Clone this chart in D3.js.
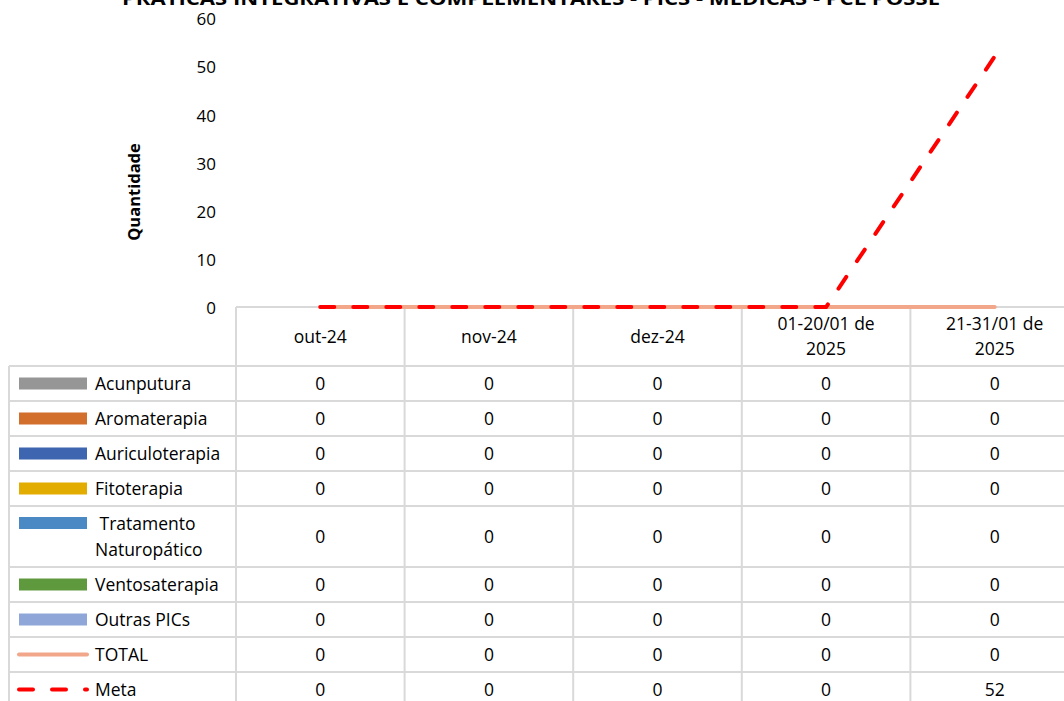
<!DOCTYPE html>
<html><head><meta charset="utf-8">
<script src="https://cdn.jsdelivr.net/npm/d3@7"></script>
<style>
html,body{margin:0;padding:0;background:#fff;overflow:hidden;}
text{font-family:"Open Sans","Lato",sans-serif;fill:#000;}
</style></head>
<body>
<svg id="chart" width="1064" height="701"></svg>
<script>
const title = "PRÁTICAS INTEGRATIVAS E COMPLEMENTARES - PICS - MÉDICAS - PCL POSSE";
const yLabel = "Quantidade";
const categories = ["out-24", "nov-24", "dez-24", "01-20/01 de 2025", "21-31/01 de 2025"];
const yTicks = [0, 10, 20, 30, 40, 50, 60];
const seriesNames = ["Acunputura", "Aromaterapia", "Auriculoterapia", "Fitoterapia", "Tratamento Naturopático", "Ventosaterapia", "Outras PICs", "TOTAL", "Meta"];
const seriesKinds = ["bar", "bar", "bar", "bar", "bar", "bar", "bar", "line", "dash"];
const seriesColors = ["#969696", "#D26F2C", "#3D65B0", "#E3AC00", "#4A89C3", "#5E9A3D", "#8FA6D8", "#F2A68A", "#FF0000"];
const acunputura = [0, 0, 0, 0, 0];
const aromaterapia = [0, 0, 0, 0, 0];
const auriculoterapia = [0, 0, 0, 0, 0];
const fitoterapia = [0, 0, 0, 0, 0];
const tratamentoNaturopatico = [0, 0, 0, 0, 0];
const ventosaterapia = [0, 0, 0, 0, 0];
const outrasPICs = [0, 0, 0, 0, 0];
const total = [0, 0, 0, 0, 0];
const meta = [0, 0, 0, 0, 52];
const seriesValues = [acunputura, aromaterapia, auriculoterapia, fitoterapia, tratamentoNaturopatico, ventosaterapia, outrasPICs, total, meta];

const svg = d3.select("#chart");
const plotTop = 18, plotBottom = 307, plotLeft = 236, plotRight = 1079;
const x = d3.scaleBand().domain(categories).range([plotLeft, plotRight]);
const y = d3.scaleLinear().domain([0, 60]).range([plotBottom, plotTop]);
const gridColor = "#D9D9D9";
const fs = 17.5;

// Title (cut off at the top edge, as in the reference)
svg.append("text").attr("x", 531).attr("y", 5).attr("text-anchor", "middle")
  .attr("font-weight", "bold").attr("font-size", 18)
  .attr("textLength", 818).attr("lengthAdjust", "spacingAndGlyphs")
  .text(title);

// Y axis
const yAxis = d3.axisLeft(y).tickValues(yTicks).tickSize(0).tickPadding(0);
const gy = svg.append("g").attr("transform", "translate(216,0)").call(yAxis);
gy.select(".domain").remove();
gy.selectAll("text").attr("font-size", 17).attr("font-family", "'Open Sans', Lato, sans-serif").attr("fill", "#000").attr("dy", "0.4em");

svg.append("text").attr("transform", "translate(140,192) rotate(-90)")
  .attr("text-anchor", "middle").attr("font-weight", "bold").attr("font-size", 16.5)
  .text(yLabel);

// Table geometry
const headerTop = plotBottom, headerBottom = 366;
const tableLeft = 9;
function nameLines(n) {
  if (n === "Tratamento Naturopático") return [" Tratamento", "Naturopático"];
  return [n];
}
const rowHeights = seriesNames.map(n => nameLines(n).length > 1 ? 61 : 35);
const rowTops = [];
let acc = headerBottom;
rowHeights.forEach(h => { rowTops.push(acc); acc += h; });
const tableBottom = acc;

const grid = svg.append("g").attr("stroke", gridColor).attr("stroke-width", 2);
grid.append("line").attr("x1", plotLeft).attr("x2", plotRight).attr("y1", plotBottom).attr("y2", plotBottom);
grid.selectAll("line.h").data(rowTops.concat([tableBottom])).enter().append("line")
  .attr("x1", tableLeft).attr("x2", plotRight).attr("y1", d => d).attr("y2", d => d);
const colEdges = categories.map(c => x(c)).concat([plotRight]);
grid.selectAll("line.v").data(colEdges).enter().append("line")
  .attr("x1", d => d).attr("x2", d => d).attr("y1", headerTop).attr("y2", tableBottom + 5);
grid.append("line").attr("x1", tableLeft).attr("x2", tableLeft).attr("y1", headerBottom).attr("y2", tableBottom + 5);

// Header labels
function catLines(c) {
  const i = c.lastIndexOf(" ");
  return c.length > 10 && i > 0 ? [c.slice(0, i), c.slice(i + 1)] : [c];
}
categories.forEach(c => {
  const lines = catLines(c);
  const cx = x(c) + x.bandwidth() / 2;
  const cy = (headerTop + headerBottom) / 2;
  const t = svg.append("text").attr("text-anchor", "middle").attr("font-size", fs);
  lines.forEach((l, k) => {
    t.append("tspan").attr("x", cx).attr("y", cy + (k - (lines.length - 1) / 2) * 25).attr("dy", "0.35em").text(l);
  });
});

// Rows
seriesNames.forEach((n, i) => {
  const top = rowTops[i], h = rowHeights[i];
  const cy = top + h / 2;
  const lines = nameLines(n);
  const kind = seriesKinds[i], col = seriesColors[i];
  const keyY = lines.length > 1 ? top + 17 : cy;
  if (kind === "bar") {
    svg.append("rect").attr("x", 19).attr("y", keyY - 6).attr("width", 68).attr("height", 12).attr("fill", col);
  } else if (kind === "line") {
    svg.append("line").attr("x1", 19).attr("x2", 87).attr("y1", keyY).attr("y2", keyY)
      .attr("stroke", col).attr("stroke-width", 4).attr("stroke-linecap", "round");
  } else {
    svg.append("line").attr("x1", 19).attr("x2", 87).attr("y1", keyY).attr("y2", keyY)
      .attr("stroke", col).attr("stroke-width", 4).attr("stroke-linecap", "round")
      .attr("stroke-dasharray", "14,19");
  }
  const t = svg.append("text").attr("font-size", fs);
  lines.forEach((l, k) => {
    t.append("tspan").attr("x", 95).attr("y", cy + (k - (lines.length - 1) / 2) * 26).attr("dy", "0.35em")
      .style("white-space", "pre").text(l);
  });
  seriesValues[i].forEach((v, j) => {
    svg.append("text").attr("x", x(categories[j]) + x.bandwidth() / 2).attr("y", cy).attr("dy", "0.35em")
      .attr("text-anchor", "middle").attr("font-size", fs).text(v);
  });
});

// Plot lines
const lineGen = d3.line().x((d, j) => x(categories[j]) + x.bandwidth() / 2).y(d => y(d));
svg.append("path").datum(total).attr("d", lineGen).attr("fill", "none")
  .attr("stroke", seriesColors[7]).attr("stroke-width", 4).attr("stroke-linecap", "round");
svg.append("path").datum(meta).attr("d", lineGen).attr("fill", "none")
  .attr("stroke", seriesColors[8]).attr("stroke-width", 4).attr("stroke-linecap", "round")
  .attr("stroke-dasharray", "14,19");
</script>
</body></html>
